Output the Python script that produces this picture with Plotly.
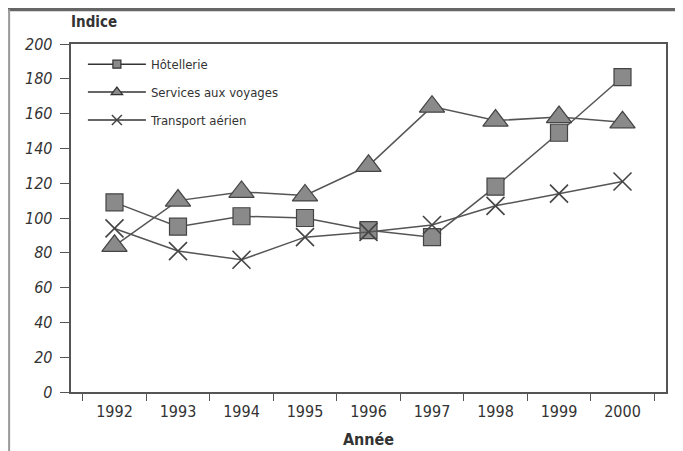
import plotly.graph_objects as go

years = ["1992", "1993", "1994", "1995", "1996", "1997", "1998", "1999", "2000"]
hotellerie = [109, 95, 101, 100, 93, 89, 118, 149, 181]
services = [84, 110, 115, 113, 130, 164, 156, 158, 155]
transport = [94, 81, 76, 89, 92, 96, 107, 114, 121]
names = ["Hôtellerie", "Services aux voyages", "Transport aérien"]

LINE = "#555555"
FILL = "#8a8a8a"
EDGE = "#444444"
TXT = "#333333"
FONT = "DejaVu Sans Condensed, Liberation Sans Narrow, sans-serif"

symbols = ["square", "triangle-up", "x-thin-open"]
sizes = [17, 22, 18]
legend_sizes = [8, 10, 10]
series = [hotellerie, services, transport]

fig = go.Figure()
for name, vals, sym, sz in zip(names, series, symbols, sizes):
    open_sym = sym.endswith("open")
    fig.add_trace(go.Scatter(
        x=years, y=vals, name=name, mode="lines+markers", showlegend=False,
        line=dict(color=LINE, width=1.5),
        marker=dict(symbol=sym, size=sz, color=EDGE if open_sym else FILL,
                    line=dict(color=EDGE, width=1.6 if open_sym else 1.2))))
# legend entries (small markers, as in the reference key)
for i, (name, sym, sz) in enumerate(zip(names, symbols, legend_sizes)):
    open_sym = sym.endswith("open")
    fig.add_trace(go.Scatter(
        x=[None], y=[None], name=name, mode="lines+markers", legendgroup=str(i),
        line=dict(color="#333333", width=1.5),
        marker=dict(symbol=sym, size=sz, color=EDGE if open_sym else FILL,
                    line=dict(color="#333333", width=1.5 if open_sym else 1.2))))

fig.update_layout(
    width=675, height=443,
    margin=dict(l=63, r=17, t=36, b=59),
    paper_bgcolor="white", plot_bgcolor="white",
    font=dict(family=FONT, color=TXT, size=14),
    showlegend=True,
    legend=dict(x=0.02, y=0.985, xanchor="left", yanchor="top",
                bgcolor="rgba(0,0,0,0)", font=dict(size=13, color=TXT),
                itemsizing="trace", itemwidth=58, tracegroupgap=8),
    xaxis=dict(type="category", showline=True, linecolor="#555555", linewidth=1.5,
               mirror=True, ticks="outside", ticklen=7, tickcolor="#555555",
               tickson="boundaries", showgrid=False, zeroline=False, automargin=False,
               tickfont=dict(size=16, color=TXT), ticklabelstandoff=4,
               title=dict(text="<b>Année</b>", font=dict(size=16, color=TXT), standoff=14)),
    yaxis=dict(range=[0, 200], dtick=20, showline=True, linecolor="#555555", linewidth=1.5,
               mirror=True, ticks="outside", ticklen=9, tickcolor="#555555",
               showgrid=False, zeroline=False, automargin=False,
               tickfont=dict(size=16, color=TXT, style="italic"), tickangle=0),
)
fig.update_yaxes(ticksuffix=" ")
fig.add_annotation(text="<b>Indice</b>", xref="paper", yref="paper", x=-0.003, y=1.033,
                   xanchor="left", yanchor="bottom", showarrow=False,
                   font=dict(size=15, color=TXT))
# scan frame
fig.add_shape(type="rect", xref="paper", yref="paper", x0=-0.12, x1=1.03, y0=1.094, y1=1.106,
              fillcolor="#666666", line=dict(width=0))
fig.add_shape(type="line", xref="paper", yref="paper", x0=-0.104, x1=-0.104, y0=-0.17, y1=1.1,
              line=dict(color="#999999", width=2))
fig.write_html("out.html")
